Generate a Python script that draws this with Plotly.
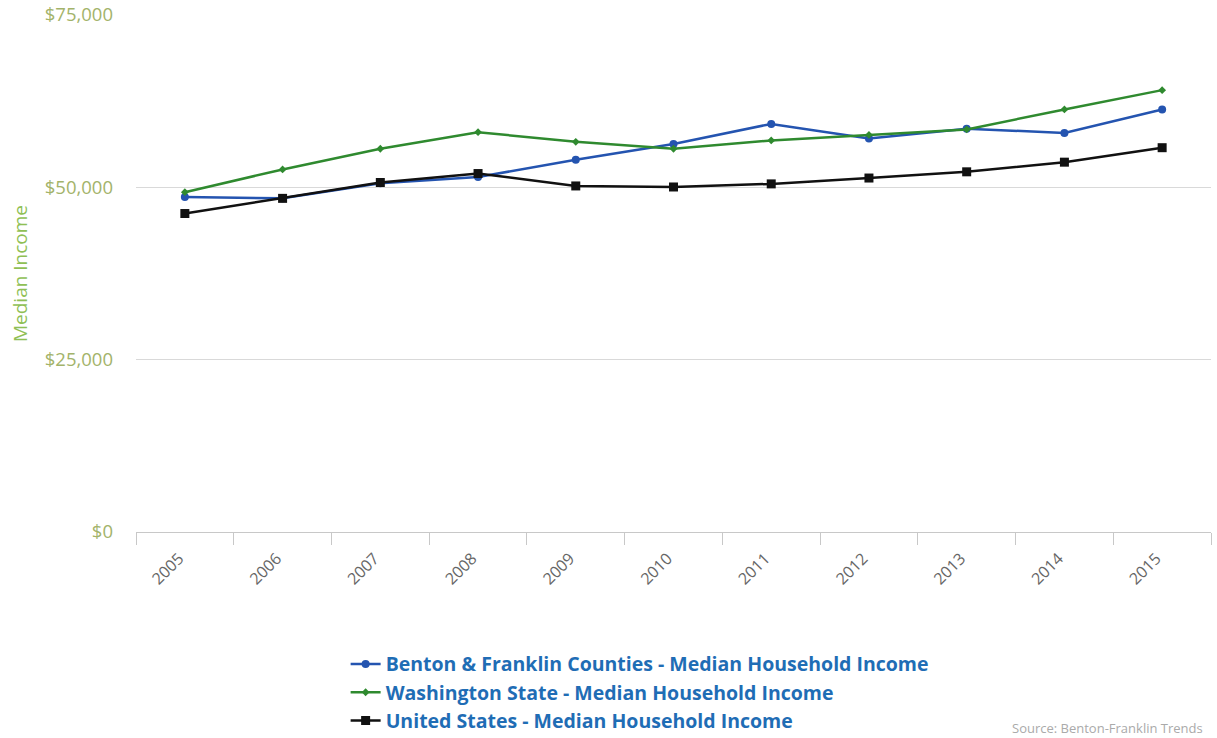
import plotly.graph_objects as go

years = ["2005", "2006", "2007", "2008", "2009", "2010", "2011", "2012", "2013", "2014", "2015"]
benton = [48600, 48400, 50600, 51500, 54000, 56300, 59200, 57100, 58500, 57900, 61300]
washington = [49300, 52600, 55600, 58000, 56600, 55600, 56800, 57600, 58400, 61300, 64100]
us = [46200, 48400, 50700, 52000, 50200, 50050, 50500, 51350, 52250, 53650, 55750]

fig = go.Figure()
fig.add_trace(go.Scatter(x=years, y=benton, name="Benton & Franklin Counties - Median Household Income",
                         mode="lines+markers", legendgroup="a",
                         line=dict(color="#2454b0", width=2.5),
                         marker=dict(symbol="circle", size=8, color="#2454b0")))
fig.add_trace(go.Scatter(x=years, y=washington, name="Washington State - Median Household Income",
                         mode="lines+markers", legendgroup="b",
                         line=dict(color="#2f8a2f", width=2.5),
                         marker=dict(symbol="diamond", size=6, color="#2f8a2f")))
fig.add_trace(go.Scatter(x=years, y=us, name="United States - Median Household Income",
                         mode="lines+markers", legendgroup="c",
                         line=dict(color="#111111", width=2.5),
                         marker=dict(symbol="square", size=9, color="#111111")))

fig.update_layout(
    width=1217, height=738,
    margin=dict(l=136, r=6, t=15, b=206, autoexpand=False),
    paper_bgcolor="white", plot_bgcolor="white",
    font=dict(family="Open Sans, sans-serif"),
    showlegend=True,
    legend=dict(x=0.195, y=-0.218, xanchor="left", yanchor="top",
                traceorder="grouped", tracegroupgap=0,
                font=dict(family="Open Sans, sans-serif", size=19.5, color="#1f6db5", weight="bold"),
                bgcolor="rgba(0,0,0,0)"),
    xaxis=dict(type="category", range=[-0.5, 10.5],
               showgrid=False, showline=True, linecolor="#c8c8c8", linewidth=1,
               ticks="outside", tickson="boundaries", ticklen=12, tickcolor="#c8c8c8",
               tickangle=-45, ticksuffix="\u00a0\u00a0", ticklabelstandoff=4,
               tickfont=dict(size=16, color="#666666", family="Open Sans, sans-serif"),
               zeroline=False, fixedrange=True, automargin=False),
    yaxis=dict(range=[0, 75000], tickvals=[0, 25000, 50000, 75000],
               ticktext=["$0", "$25,000", "$50,000", "$75,000"],
               showgrid=True, gridcolor="#d9d9d9", gridwidth=1,
               zeroline=False, showline=False, ticks="",
               ticklabelstandoff=22, automargin=False,
               tickfont=dict(size=18.5, color="#a3b36a", family="Open Sans, sans-serif"),
               title=dict(text="Median Income", standoff=12,
                          font=dict(size=19, color="#8fbf55", family="Open Sans, sans-serif"))),
    annotations=[dict(text="Source: Benton-Franklin Trends", xref="paper", yref="paper",
                      x=0.994, y=-0.4, xanchor="right", yanchor="bottom", showarrow=False,
                      font=dict(size=13, color="#aaaaaa", family="Open Sans, sans-serif"))],
)

fig.write_html("out.html")
